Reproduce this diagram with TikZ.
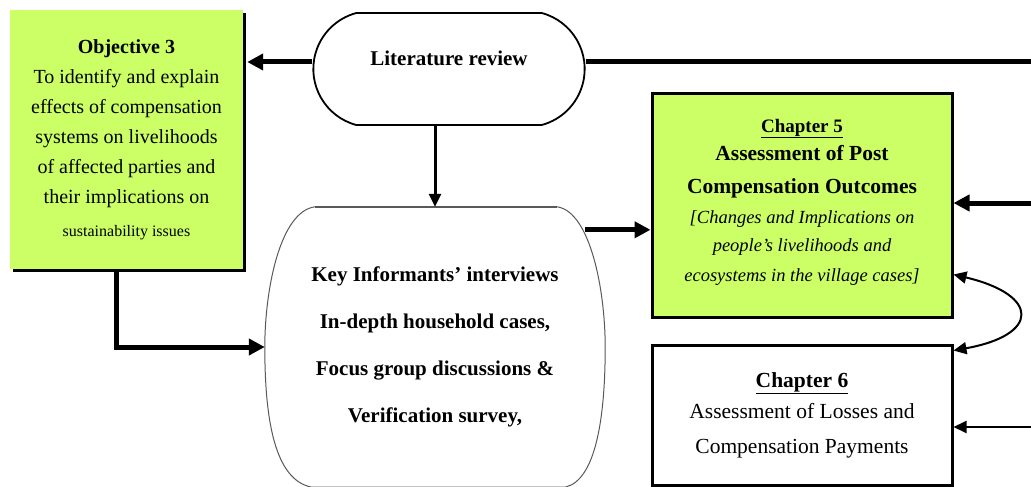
\documentclass[tikz,border=0pt]{standalone}
\usepackage{fontspec}
\setmainfont{Liberation Serif}
\usetikzlibrary{arrows.meta,shapes.misc,shadows}
\definecolor{limefill}{HTML}{CCFF66}

\begin{document}
\begin{tikzpicture}[x=1pt, y=-1pt,
      greenbox/.style={rectangle, fill=limefill, align=center, inner sep=2pt},
      chapbox/.style={draw, line width=3pt, rectangle, align=center, minimum width=300pt},
      roundbox/.style={rounded rectangle, draw=black, align=center},
      fat/.style={line width=5pt, -{Triangle[length=16pt,width=16pt]}},
      mid/.style={line width=3pt, -{Triangle[length=13pt,width=12pt]}},
      slim/.style={line width=2pt, -{Triangle[length=13pt,width=12pt]}},
      curvy/.style={line width=2pt, {Triangle[length=13pt,width=12pt]}-{Triangle[length=13pt,width=12pt]}}]
      \path[use as bounding box, fill=white] (0,0) rectangle (1031,487);

      \node (obj) [greenbox, minimum width=233pt, minimum height=259pt,
            drop shadow={shadow xshift=3pt, shadow yshift=-3pt, fill=black, opacity=1},
            font=\fontsize{20}{30}\selectfont] at (126.5,139.5)
            {\textbf{Objective 3}\\To identify and explain\\effects of compensation\\systems on livelihoods\\of affected parties and\\their implications on\\[3pt]{\fontsize{16}{20}\selectfont sustainability issues}};
      \node (lit) [roundbox, line width=1.8pt, rounded rectangle arc length=150,
            minimum width=278pt, minimum height=112pt,
            font=\bfseries\fontsize{21}{25}\selectfont] at (449,69) {\raisebox{22pt}{Literature review}};
      \node (key) [rectangle, align=center, minimum width=340pt, minimum height=280pt,
            font=\bfseries\fontsize{21}{47}\selectfont] at (435,347)
            {Key Informants' interviews\\In-depth household cases,\\Focus group discussions \&\\Verification survey,};
      \node (ch5) [chapbox, fill=limefill, minimum height=224pt,
            font=\fontsize{21.5}{30}\selectfont] at (802,205)
            {{\fontsize{19}{24}\selectfont\textbf{\underline{Chapter 5}}}\\[-2pt]
             \textbf{Assessment of Post}\\[3pt]
             \textbf{Compensation Outcomes}\\
             {\fontsize{18.5}{24}\selectfont\itshape [Changes and Implications on}\\[-2pt]
             {\fontsize{18.5}{24}\selectfont\itshape people's livelihoods and}\\
             {\fontsize{18.5}{24}\selectfont\itshape ecosystems in the village cases]}\\[-20pt]\mbox{}};
      \node (ch6) [chapbox, minimum height=140pt,
            font=\fontsize{21.5}{35}\selectfont] at (802,415)
            {\textbf{\underline{Chapter 6}}\\[-4pt]Assessment of Losses and\\Compensation Payments};

      % outline of the interview shape
      \draw[gray!70!black, line width=1pt]
            ([shift={(50,0)}]key.north west) -- ([shift={(-48,0)}]key.north east)
            .. controls ([shift={(-15,5)}]key.north east) and ([shift={(0,-57)}]key.east) .. (key.east)
            .. controls ([shift={(0,73)}]key.east) and ([shift={(-10,-7)}]key.south east) .. ([shift={(-40,0)}]key.south east)
            -- ([shift={(47,0)}]key.south west)
            .. controls ([shift={(10,-7)}]key.south west) and ([shift={(0,73)}]key.west) .. (key.west)
            .. controls ([shift={(0,-57)}]key.west) and ([shift={(15,5)}]key.north west) .. ([shift={(50,0)}]key.north west);
      \draw[gray!70!black, line width=2.5pt] ([shift={(50,0)}]key.north west) -- ([shift={(-48,0)}]key.north east);

      \coordinate (litleft) at ([yshift=7pt]lit.west);
      \coordinate (litout) at (1031,62);
      \coordinate (keyout) at ([shift={(-20,23)}]key.north east);
      \coordinate (in5) at (1031,203);
      \coordinate (in6) at (1031,427);

      \draw[fat] (litleft) -- ([xshift=4pt]litleft -| obj.east);
      \draw[line width=5pt] (lit.east |- litout) -- (litout);
      \draw[mid] (key.north |- lit.south) -- (key.north);
      \draw[fat] ([xshift=-10pt]obj.south) |- (key.west);
      \draw[fat] (keyout) -- (keyout -| ch5.west);
      \draw[fat] (in5) -- (in5 -| ch5.east);
      \draw[slim] (in6) -- (in6 -| ch6.east);
      \draw[curvy] ([yshift=44pt]ch5.south east) .. controls (1040,295) and (1040,335) .. ([yshift=-7pt]ch6.north east);
    \end{tikzpicture}
\end{document}
